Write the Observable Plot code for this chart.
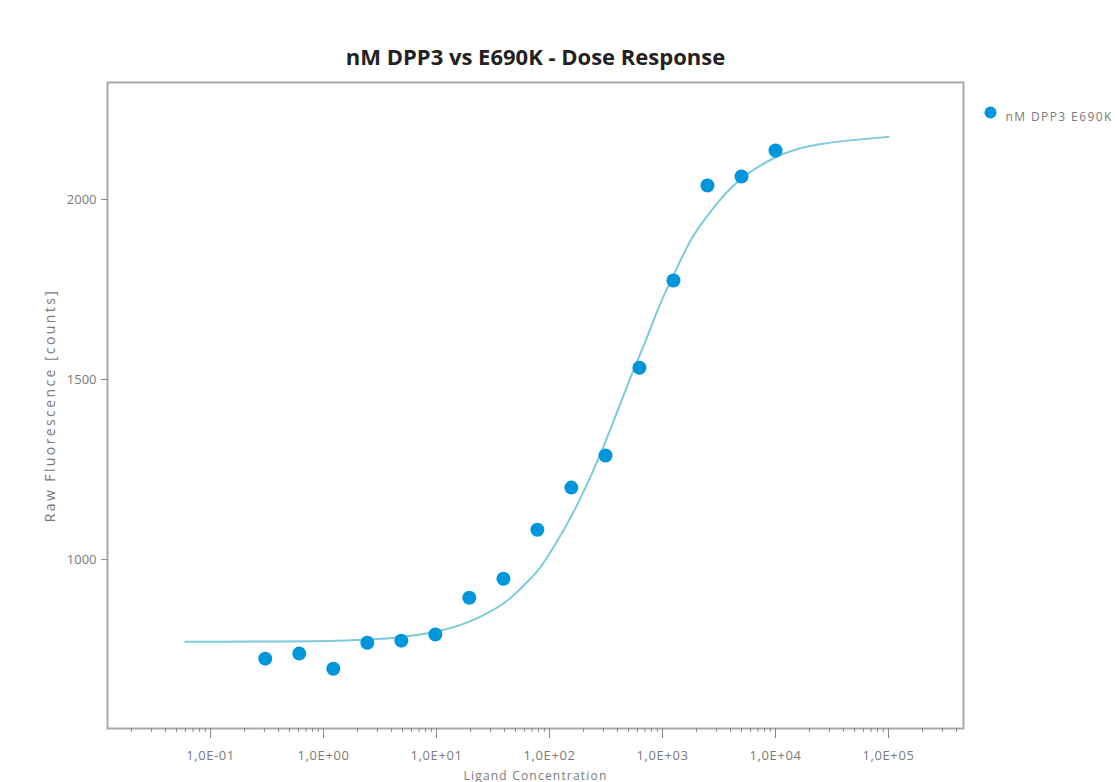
<!DOCTYPE html>
<html>
<head>
<meta charset="utf-8">
<script src="https://cdn.jsdelivr.net/npm/d3@7"></script>
<script src="https://cdn.jsdelivr.net/npm/@observablehq/plot@0.6"></script>
<style>
  html, body { margin: 0; padding: 0; background: #fff; }
  #chart { width: 1115px; height: 782px; overflow: hidden; }
</style>
</head>
<body>
<div id="chart"></div>
<script>
// Data
const title = "nM DPP3 vs E690K - Dose Response";
const seriesName = "nM DPP3 E690K";
const xLabel = "Ligand Concentration";
const yLabel = "Raw Fluorescence [counts]";

const concentrations = [0.305, 0.61, 1.22, 2.44, 4.88, 9.77, 19.5, 39.1, 78.1, 156, 313, 625, 1250, 2500, 5000, 10000];
const responses = [725, 739, 697, 769, 775, 792, 894, 947, 1083, 1200, 1289, 1533, 1775, 2039, 2064, 2136];

// fitted curve at sample concentrations
const fitX = [0.06, 1.3, 5.1, 10.2, 20, 39, 56, 78, 102, 135, 186, 302, 525, 700, 955, 1349, 1800, 2512, 4266, 9550, 25119, 100000];
const fitY = [772, 775, 786, 801, 829, 878, 921, 968, 1021, 1085, 1168, 1316, 1508, 1603, 1710, 1812, 1890, 1956, 2039, 2114, 2154, 2174];

const xMajorTicks = [0.1, 1, 10, 100, 1000, 10000, 100000];
const xTickLabels = ["1,0E-01", "1,0E+00", "1,0E+01", "1,0E+02", "1,0E+03", "1,0E+04", "1,0E+05"];
const yTicks = [1000, 1500, 2000];

// minor tick positions (2..9 x 10^k)
const xMinorTicks = [];
for (let k = -2; k <= 5; k++) for (let m = 2; m <= 9; m++) xMinorTicks.push(m * Math.pow(10, k));

const points = concentrations.map((c, i) => ({c, r: responses[i]}));
const fit = fitX.map((c, i) => ({c, r: fitY[i]}));

const dotColor = "#0096db";
const lineColor = "#7ccadd";
const axisFont = "'Open Sans', 'DejaVu Sans', sans-serif";
const xMin = 0.01225, xMax = 461000;

const chart = Plot.plot({
  width: 1115,
  height: 782,
  marginLeft: 107,
  marginRight: 152,
  marginTop: 82,
  marginBottom: 54,
  style: {fontFamily: axisFont, fontSize: "13px", color: "#777", background: "#fff"},
  x: {type: "log", domain: [xMin, xMax]},
  y: {domain: [531, 2325]},
  marks: [
    Plot.frame({stroke: "#a9a9a9", strokeWidth: 2}),
    Plot.axisX({ticks: xMinorTicks.filter(d => d > xMin && d < xMax), tickSize: 4, text: null, stroke: "#888", label: null}),
    Plot.axisX({ticks: xMajorTicks, tickSize: 10, tickPadding: 12, fontSize: 13, tickFormat: d => xTickLabels[xMajorTicks.indexOf(d)], stroke: "#888", fill: "#7a7a7a", label: null}),
    Plot.axisY({ticks: yTicks, tickSize: 6, tickPadding: 5, fontSize: 13, tickFormat: d => String(d), stroke: "#888", fill: "#7a7a7a", label: null}),
    Plot.line(fit, {x: "c", y: "r", stroke: lineColor, strokeWidth: 2, curve: "natural"}),
    Plot.dot(points, {x: "c", y: "r", r: 7, fill: dotColor}),
    Plot.text([title], {frameAnchor: "top", dy: -33, fontFamily: "'Open Sans', sans-serif", fontWeight: 700, fontSize: 22, fill: "#222"}),
    Plot.text([yLabel], {frameAnchor: "left", dx: -57, rotate: -90, textAnchor: "middle", fontSize: 14, fill: "#7a7a7a"}),
    Plot.text([xLabel], {frameAnchor: "bottom", dy: 51, lineAnchor: "bottom", fontSize: 12, fill: "#7a7a7a"}),
    Plot.dot([seriesName], {frameAnchor: "top-right", dx: 27, dy: 30, r: 6, fill: dotColor}),
    Plot.text([seriesName], {frameAnchor: "top-right", dx: 42, dy: 30, textAnchor: "start", fontSize: 12, fill: "#7a7a7a"})
  ]
});

// letter spacing tweaks to match the stretched look of the reference text
const spacing = new Map([[yLabel, "2.4px"], [seriesName, "1.4px"], [xLabel, "1.2px"]]);
xTickLabels.forEach(t => spacing.set(t, "0.6px"));
d3.select(chart).selectAll("text").each(function() {
  const s = spacing.get(this.textContent);
  if (s) d3.select(this).style("letter-spacing", s);
});

document.getElementById("chart").appendChild(chart);
</script>
</body>
</html>
